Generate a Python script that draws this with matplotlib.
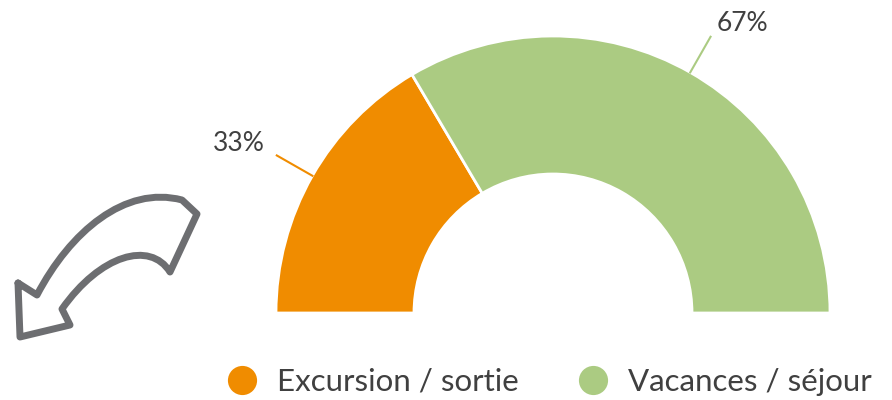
import numpy as np
import matplotlib.pyplot as plt
from matplotlib.path import Path
from matplotlib.patches import PathPatch
from matplotlib.lines import Line2D

plt.rcParams['font.family'] = ['Lato', 'DejaVu Sans']

# data
categories = ['Excursion / sortie', 'Vacances / séjour']
shares = [33, 67]
colors = ['#F08C00', '#ABCB82']

W, H = 892, 400
fig = plt.figure(figsize=(W / 100, H / 100), dpi=100)
ax = fig.add_axes([0, 0, 1, 1])

# half donut: the hidden third wedge fills the lower half
cx, cy, r_out, ring = 553, 87, 277, 138
vals = shares + [sum(shares)]
wedges, _ = ax.pie(vals, colors=colors + ['none'], startangle=180, counterclock=False,
                   center=(cx, cy), radius=r_out, frame=True,
                   wedgeprops=dict(width=ring, edgecolor='white', linewidth=2))
wedges[-1].set_edgecolor('none')
ax.set_xlim(0, W)
ax.set_ylim(0, H)
ax.set_aspect('equal')
ax.axis('off')

# percentage labels with leader lines
offsets = [(-12, 12, 'right'), (6, 13, 'left')]
for w, v, (dx, dy, ha) in zip(wedges[:2], shares, offsets):
    ang = np.deg2rad((w.theta1 + w.theta2) / 2)
    p0 = (cx + r_out * np.cos(ang), cy + r_out * np.sin(ang))
    p1 = (cx + 318 * np.cos(ang), cy + 318 * np.sin(ang))
    ax.plot([p0[0], p1[0]], [p0[1], p1[1]], color=w.get_facecolor(), lw=1.5)
    ax.text(p1[0] + dx, p1[1] + dy, f'{v}%', ha=ha, va='center',
            fontsize=19, color='#404040')

# decorative curved arrow (outline)
M, L, C = Path.MOVETO, Path.LINETO, Path.CURVE4
arrow = [
    ((18, 283), M), ((37, 295), L),
    ((70, 232), C), ((125, 185), C), ((182, 200), C),
    ((197, 214), L),
    ((170, 272), L),
    ((150, 240), C), ((100, 255), C), ((62, 309), C),
    ((70, 325), L),
    ((20, 337), L),
    ((18, 283), L),
]
verts = [(x, H - y) for (x, y), _ in arrow]
codes = [c for _, c in arrow]
ax.add_patch(PathPatch(Path(verts, codes), facecolor='none', edgecolor='#6D6E71',
                       lw=5, joinstyle='round', capstyle='round'))

# legend
handles = [Line2D([], [], ls='none', marker='o', markersize=21,
                  markerfacecolor=c, markeredgecolor='none') for c in colors]
ax.legend(handles, categories, loc='center', bbox_to_anchor=(549 / W, 1 - 382 / H),
          ncol=2, frameon=False, fontsize=22.5, handletextpad=0.6, columnspacing=1.9,
          labelcolor='#404040', handlelength=1.0)

fig.savefig('out.png', dpi=100)
